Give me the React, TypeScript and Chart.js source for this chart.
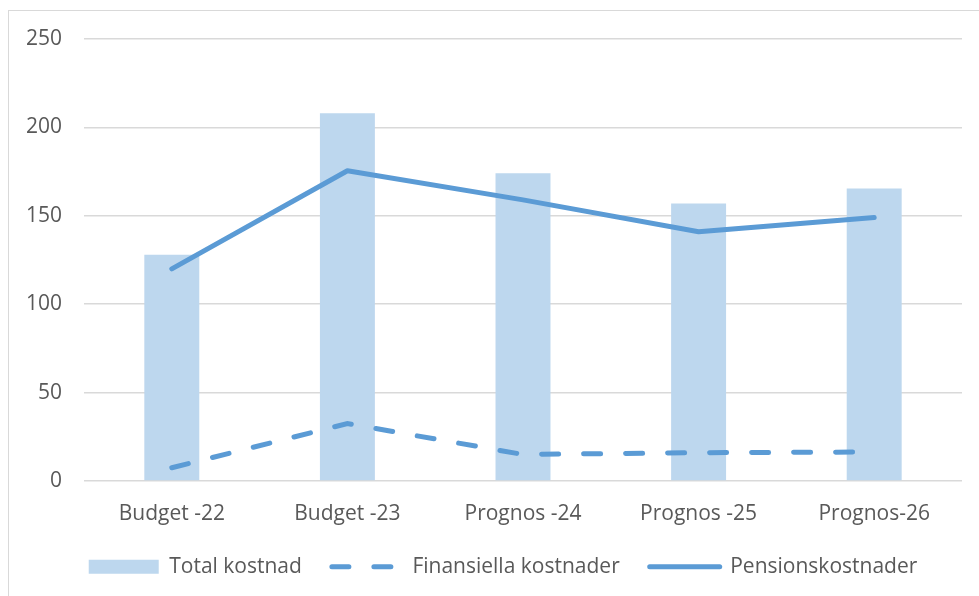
import React, { useEffect, useRef } from "react";
import { Chart, registerables } from "chart.js";

Chart.register(...registerables);

const categories = ["Budget -22", "Budget -23", "Prognos -24", "Prognos -25", "Prognos-26"];
const totalKostnad = [128, 208, 174, 157, 165.5];
const finansiellaKostnader = [7.5, 32.5, 15, 16, 16.4];
const pensionsKostnader = [120, 175.5, 159, 141, 149];
const yTicks = [0, 50, 100, 150, 200, 250];

const TEXT = "#595959";
const GRID = "#d9d9d9";
const BAR = "#BDD7EE";
const LINE = "#5B9BD5";
const FONT = { family: "'Open Sans', 'Noto Sans', sans-serif", size: 21 };

const legendShift = {
  id: "legendShift",
  afterLayout(chart: any) {
    const lg = chart.legend;
    if (lg) {
      lg.left += 22;
      lg.right += 22;
      lg.top -= 20;
      lg.bottom -= 20;
    }
  },
};

export default function App() {
  const ref = useRef<HTMLCanvasElement | null>(null);

  useEffect(() => {
    if (!ref.current) return;
    const chart = new Chart(ref.current, {
      data: {
        labels: categories,
        datasets: [
          {
            type: "bar",
            label: "Total kostnad",
            data: totalKostnad,
            backgroundColor: BAR,
            borderWidth: 0,
            barPercentage: 0.313,
            categoryPercentage: 1,
            order: 3,
          },
          {
            type: "line",
            label: "Finansiella kostnader",
            data: finansiellaKostnader,
            borderColor: LINE,
            backgroundColor: LINE,
            borderWidth: 5,
            borderDash: [17, 25],
            borderCapStyle: "round",
            pointRadius: 0,
            tension: 0,
            order: 2,
          },
          {
            type: "line",
            label: "Pensionskostnader",
            data: pensionsKostnader,
            borderColor: LINE,
            backgroundColor: LINE,
            borderWidth: 5,
            borderCapStyle: "round",
            borderJoinStyle: "round",
            pointRadius: 0,
            tension: 0,
            order: 1,
          },
        ],
      } as any,
      options: {
        responsive: false,
        animation: false,
        devicePixelRatio: 1,
        layout: { padding: { top: 39, left: 0, right: 17, bottom: -11.2 } },
        plugins: {
          tooltip: { enabled: false },
          legend: {
            position: "bottom",
            labels: {
              usePointStyle: true,
              pointStyleWidth: 70,
              boxHeight: 14,
              padding: 30,
              font: FONT,
              color: TEXT,
              generateLabels: (c: any) =>
                c.data.datasets.map((ds: any, i: number) => ({
                  text: ds.label,
                  datasetIndex: i,
                  hidden: false,
                  fontColor: TEXT,
                  fillStyle: i === 0 ? BAR : "rgba(0,0,0,0)",
                  strokeStyle: LINE,
                  lineWidth: i === 0 ? 0 : 5,
                  lineDash: i === 1 ? [17, 25] : [],
                  lineCap: "round",
                  pointStyle: i === 0 ? "rect" : "line",
                })),
            },
          },
        },
        scales: {
          x: {
            grid: { display: false, drawTicks: false },
            border: { display: false },
            ticks: { font: FONT, color: TEXT, padding: 20 },
          },
          y: {
            min: 0,
            max: 250,
            afterBuildTicks: (s: any) => {
              s.ticks = yTicks.map((v) => ({ value: v }));
            },
            afterFit: (s: any) => {
              s.width = 84;
            },
            ticks: { font: FONT, color: TEXT, padding: 22 },
            grid: { color: GRID, lineWidth: 1.5, drawTicks: false },
            border: { display: false },
          },
        },
      } as any,
      plugins: [legendShift],
    });
    return () => chart.destroy();
  }, []);

  return (
    <div style={{ position: "fixed", left: 0, top: 0, width: 979, height: 596, overflow: "hidden", background: "#fff" }}>
      <div
        style={{
          position: "absolute",
          left: 8,
          top: 10,
          width: 1000,
          height: 700,
          border: `1.5px solid ${GRID}`,
        }}
      />
      <canvas ref={ref} width={979} height={596} style={{ position: "absolute", left: 0, top: 0 }} />
    </div>
  );
}
